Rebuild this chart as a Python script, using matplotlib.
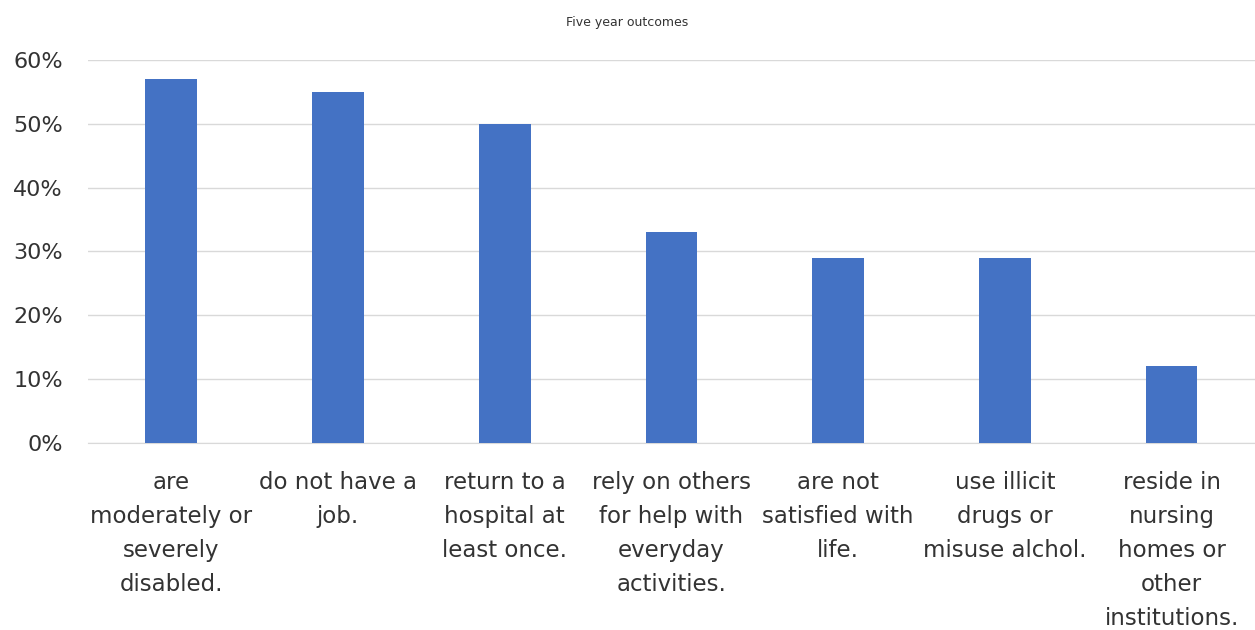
import matplotlib
matplotlib.use('Agg')
import matplotlib.pyplot as plt
import numpy as np

# Five year outcomes data
categories = [
    'are\nmoderately or\nseverely\ndisabled.',
    'do not have a\njob.',
    'return to a\nhospital at\nleast once.',
    'rely on others\nfor help with\neveryday\nactivities.',
    'are not\nsatisfied with\nlife.',
    'use illicit\ndrugs or\nmisuse alchol.',
    'reside in\nnursing\nhomes or\nother\ninstitutions.',
]
values = [57, 55, 50, 33, 29, 29, 12]
yticks = [0, 10, 20, 30, 40, 50, 60]

plt.rcParams['font.family'] = ['DejaVu Sans']

fig = plt.figure(figsize=(12.55, 6.30), dpi=100)
ax = fig.add_axes([0.070, 0.297, 0.930, 0.608])

x = np.arange(len(values))
ax.bar(x, values, width=0.31, color='#4472C4', zorder=3)

ax.set_xlim(-0.5, len(values) - 0.5)
ax.set_ylim(0, 60)
ax.set_yticks(yticks)
ax.set_yticklabels([f'{v}%' for v in yticks], fontsize=16, color='#333333')
ax.grid(axis='y', color='#D9D9D9', linewidth=1, zorder=0)

ax.set_xticks(x)
ax.set_xticklabels(categories, fontsize=16.5, color='#333333', linespacing=1.62,
                   va='top')
ax.tick_params(axis='both', length=0)
ax.tick_params(axis='x', pad=20)
ax.tick_params(axis='y', pad=18)

for side in ['top', 'right', 'left']:
    ax.spines[side].set_visible(False)
ax.spines['bottom'].set_color('#D9D9D9')

fig.text(0.5, 0.965, 'Five year outcomes', ha='center', va='center',
         fontsize=9, color='#333333')

fig.savefig('out.png', dpi=100, facecolor='white')
